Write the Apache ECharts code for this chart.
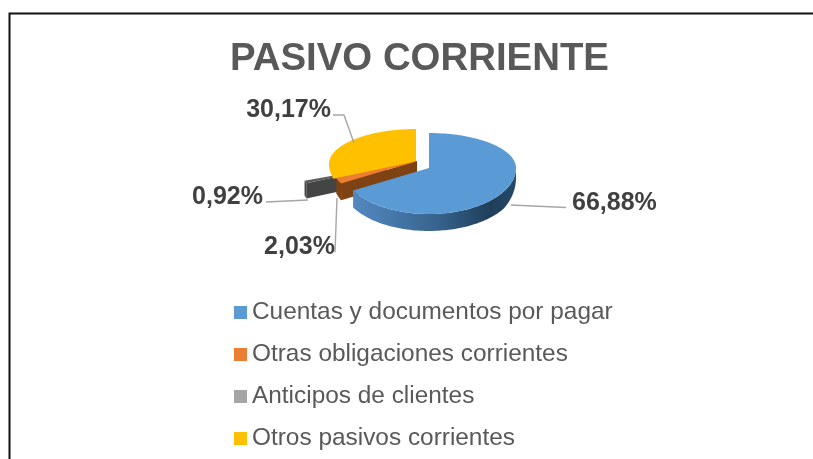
<!DOCTYPE html>
<html><head><meta charset="utf-8">
<style>html,body{margin:0;padding:0;background:#fff}#c{width:813px;height:459px}</style>
<script src="https://cdn.jsdelivr.net/npm/echarts@6/dist/echarts.min.js"></script>
</head><body><div id="c"></div>
<script>
const categories = ['Cuentas y documentos por pagar','Otras obligaciones corrientes','Anticipos de clientes','Otros pasivos corrientes'];
const shares = [66.88, 2.03, 0.92, 30.17];
const colors = ['#5B9BD5','#ED7D31','#A5A5A5','#FFC000'];
const topColors = ['#5B9BD5','#ED7D31','#5a5a5a','#FFC000'];
const wallColors = ['#3c6a96','#7f4213','#444444',null];
// layout of each exploded slice: apex x, apex y
const apex = [[429,168],[417,161],[387,166],[416,164]];
const labelPos = [[572,203,'left'],[335,247,'right'],[263,197,'right'],[331,110,'right']];
const leaders = [[[511,205],[566,207.5]],[[337,198],[335,252]],[[308,200],[266,202]],[[354,143],[344,115],[333,115]]];
const drawOrder = [2,3,1,0];
const RX=87, RY_TOP=35, RY_BOT=46;
const starts=[]; let acc=0; shares.forEach(v=>{starts.push(acc);acc+=v;});
const total=acc;
const rad=v=>v/total*Math.PI*2;
function rim(a,c){
  const s=Math.sin(a),k=Math.cos(a);
  return [c[0]+RX*s, c[1]-k*(k>0?RY_TOP:RY_BOT)];
}
function depth(a){return 10+7*Math.min(1,Math.abs(Math.cos(a))*2);}
function arcPts(a0,a1,c,withDepth){
  const n=Math.max(2,Math.ceil((a1-a0)/0.03)),p=[];
  for(let i=0;i<=n;i++){const a=a0+(a1-a0)*i/n,q=rim(a,c);p.push(withDepth?[q[0],q[1]+depth(a)]:q);}
  return p;
}
function render(i){
  return function(){
    const a0=rad(starts[i]),a1=a0+rad(shares[i]),c=apex[i];
    const out=[];
    if(wallColors[i]){
      const d=depth(a0),e0=rim(a0,c);
      out.push({type:'polygon',shape:{points:[c,e0,[e0[0],e0[1]+d],[c[0],c[1]+d]]},style:{fill:wallColors[i]}});
      const w0=Math.max(a0,Math.PI/2),w1=Math.min(a1,Math.PI*1.5);
      if(w1>w0){
        const top=arcPts(w0,w1,c,false),bot=arcPts(w0,w1,c,true).reverse();
        const fill=i===0?{type:'linear',x:0,y:0,x2:1,y2:0,colorStops:[{offset:0,color:'#5389c0'},{offset:0.5,color:'#38658f'},{offset:0.85,color:'#1f3e5a'},{offset:1,color:'#264a6b'}]}:wallColors[i];
        out.push({type:'polygon',shape:{points:top.concat(bot)},style:{fill}});
      }
    }
    out.push({type:'polygon',shape:{points:[c].concat(arcPts(a0,a1,c,false))},style:{fill:topColors[i]}});
    return {type:'group',children:out};
  };
}
function renderLabel(i){
  return function(){
    const t=shares[i].toFixed(2).replace('.',',')+'%',l=labelPos[i];
    return {type:'group',children:[
      {type:'polyline',shape:{points:leaders[i]},style:{stroke:'#a6a6a6',lineWidth:1.4,fill:null}},
      {type:'text',style:{x:l[0],y:l[1],text:t,align:l[2],verticalAlign:'middle',fill:'#404040',font:'bold 25px "Liberation Sans"'}}
    ]};
  };
}
const series=drawOrder.map(i=>({type:'custom',name:categories[i],coordinateSystem:'none',data:[shares[i]],itemStyle:{color:colors[i]},renderItem:render(i),silent:true,animation:false,z:2}));
categories.forEach((n,i)=>series.push({type:'custom',coordinateSystem:'none',data:[shares[i]],renderItem:renderLabel(i),silent:true,animation:false,z:3}));
const chart=echarts.init(document.getElementById('c'),null,{renderer:'canvas'});
chart.setOption({
  animation:false,
  backgroundColor:'#fff',
  title:{text:'PASIVO CORRIENTE',left:225,top:35,textStyle:{fontFamily:'Liberation Sans',fontWeight:'bold',fontSize:38.4,color:'#595959'}},
  legend:{data:categories,orient:'vertical',left:234,top:299.5,height:158,padding:0,icon:'rect',itemWidth:13,itemHeight:13,itemGap:16,selectedMode:false,
    textStyle:{fontFamily:'Liberation Sans',fontSize:24.4,color:'#595959',lineHeight:26}},
  graphic:[{type:'polyline',shape:{points:[[9.5,459],[9.5,13.5],[813,13.5]]},style:{stroke:'#111',lineWidth:2,fill:null},silent:true}],
  series
});
</script></body></html>
